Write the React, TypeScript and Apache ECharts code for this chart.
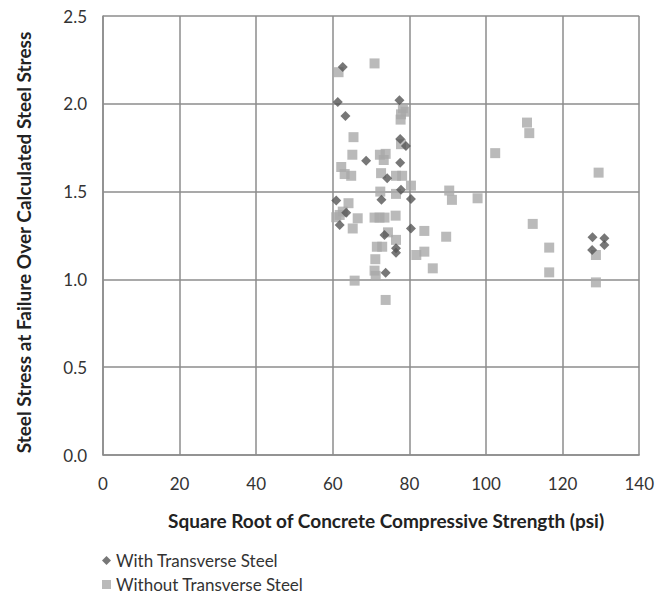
import React, { useEffect, useRef } from "react";
import * as echarts from "echarts";

const withX = [62.6, 61.3, 77.4, 63.3, 77.6, 79.1, 68.7, 77.6, 74.2, 77.8, 60.9, 72.7, 80.4, 63.5, 61.8, 80.4, 73.5, 76.5, 76.5, 73.8, 127.8, 130.9, 130.9, 127.7];
const withY = [2.21, 2.01, 2.02, 1.93, 1.8, 1.76, 1.675, 1.665, 1.576, 1.51, 1.45, 1.453, 1.458, 1.38, 1.31, 1.29, 1.253, 1.177, 1.152, 1.038, 1.24, 1.234, 1.196, 1.168];

const withoutX = [61.5, 70.9, 78.3, 79.0, 77.8, 77.7, 65.4, 77.8, 65.1, 72.3, 73.8, 73.3, 62.2, 63.1, 64.8, 72.6, 76.5, 78.1, 80.4, 72.4, 76.5, 90.4, 91.1, 97.8, 64.1, 62.6, 61.8, 60.9, 66.5, 65.2, 70.9, 72.2, 73.5, 76.4, 83.9, 89.6, 74.4, 76.5, 71.5, 72.9, 81.8, 83.9, 71.1, 86.1, 70.9, 71.2, 65.7, 73.8, 102.4, 110.7, 111.3, 112.2, 116.5, 116.5, 128.7, 128.7, 129.4];
const withoutY = [2.18, 2.23, 1.975, 1.955, 1.94, 1.91, 1.81, 1.77, 1.71, 1.71, 1.715, 1.68, 1.64, 1.6, 1.59, 1.605, 1.59, 1.59, 1.534, 1.5, 1.487, 1.506, 1.453, 1.462, 1.434, 1.386, 1.367, 1.354, 1.348, 1.29, 1.352, 1.352, 1.352, 1.363, 1.276, 1.243, 1.268, 1.225, 1.186, 1.186, 1.139, 1.158, 1.115, 1.063, 1.05, 1.02, 0.993, 0.883, 1.719, 1.893, 1.833, 1.316, 1.181, 1.04, 1.139, 0.983, 1.608];

const seriesNames = ["With Transverse Steel", "Without Transverse Steel"];
const xTitle = "Square Root of Concrete Compressive Strength (psi)";
const yTitle = "Steel Stress at Failure Over Calculated Steel Stress";

const FONT = "Lato, 'Open Sans', sans-serif";

export default function App() {
  const ref = useRef<HTMLDivElement>(null);
  useEffect(() => {
    if (!ref.current) return;
    const chart = echarts.init(ref.current, null, { renderer: "svg" });
    const gridColor = "#8c8c8c";
    const legendText = { fontSize: 17, color: "#333", fontFamily: FONT };
    chart.setOption({
      animation: false,
      textStyle: { fontFamily: FONT },
      grid: { left: 103, right: 17, top: 16, bottom: 143 },
      legend: [
        {
          left: 97,
          top: 547,
          itemWidth: 9,
          itemHeight: 9,
          itemGap: 6,
          textStyle: legendText,
          data: [{ name: seriesNames[0], icon: "diamond" }],
        },
        {
          left: 97,
          top: 571,
          itemWidth: 9,
          itemHeight: 9,
          itemGap: 6,
          textStyle: legendText,
          data: [{ name: seriesNames[1], icon: "rect" }],
        },
      ],
      xAxis: {
        type: "value",
        min: 0,
        max: 140,
        interval: 20,
        name: xTitle,
        nameLocation: "middle",
        nameGap: 56,
        nameTextStyle: {
          fontSize: 19,
          fontWeight: "bold",
          color: "#222",
          fontFamily: FONT,
          padding: [0, 0, 0, 30],
        },
        axisLine: { show: true, lineStyle: { color: gridColor, width: 1.5 } },
        axisTick: { show: false },
        axisLabel: { fontSize: 17, color: "#333", margin: 20, fontFamily: FONT },
        splitLine: { show: true, lineStyle: { color: gridColor, width: 1.5 } },
      },
      yAxis: {
        type: "value",
        min: 0,
        max: 2.5,
        interval: 0.5,
        name: yTitle,
        nameLocation: "middle",
        nameGap: 70,
        nameTextStyle: {
          fontSize: 19,
          fontWeight: "bold",
          color: "#222",
          fontFamily: FONT,
          padding: [0, 14, 0, 0],
        },
        axisLine: { show: true, lineStyle: { color: gridColor, width: 1.5 } },
        axisTick: { show: false },
        axisLabel: {
          fontSize: 17,
          color: "#333",
          margin: 16,
          fontFamily: FONT,
          formatter: (v: number) => v.toFixed(1),
        },
        splitLine: { show: true, lineStyle: { color: gridColor, width: 1.5 } },
      },
      series: [
        {
          name: seriesNames[1],
          type: "scatter",
          symbol: "rect",
          symbolSize: 10,
          itemStyle: { color: "#a9a9a9" },
          data: withoutX.map((x, i) => [x, withoutY[i]]),
          z: 2,
        },
        {
          name: seriesNames[0],
          type: "scatter",
          symbol: "diamond",
          symbolSize: 10,
          itemStyle: { color: "#555555" },
          data: withX.map((x, i) => [x, withY[i]]),
          z: 3,
        },
      ],
    });
    return () => chart.dispose();
  }, []);
  return <div ref={ref} style={{ width: 657, height: 598, position: "absolute", left: 0, top: 0 }} />;
}
